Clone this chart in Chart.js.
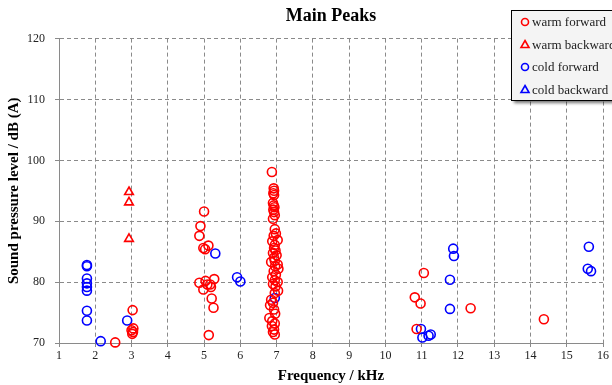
<!DOCTYPE html>
<html>
<head>
<meta charset="utf-8">
<script src="https://cdn.jsdelivr.net/npm/chart.js@4.4.1/dist/chart.umd.min.js"></script>
<style>
  html, body { margin: 0; padding: 0; background: #fff; }
</style>
</head>
<body>
<canvas id="peaks" width="612" height="385"></canvas>
<script>
// Peak values: [frequency kHz, level dB(A)]
const warmForward = [
  [2.55, 70.1], [3.03, 75.4], [3.05, 72.4], [3.0, 72.1], [3.04, 71.8], [3.02, 71.5],
  [5.0, 91.6], [4.9, 89.2], [4.87, 87.6], [4.98, 85.6], [5.03, 85.4], [5.12, 86.0],
  [4.87, 79.9], [5.04, 80.2], [5.28, 80.5], [4.98, 78.8], [5.17, 79.6], [5.19, 79.2],
  [5.09, 79.6], [5.21, 77.3], [5.26, 75.8], [5.13, 71.3],
  [6.87, 98.1], [6.92, 95.4], [6.93, 95.0], [6.91, 94.6], [6.93, 94.3], [6.9, 93.0],
  [6.92, 92.6], [6.94, 92.3], [6.91, 91.9], [6.93, 91.5], [6.95, 91.0], [6.9, 90.4],
  [6.95, 88.7], [6.98, 88.0], [6.92, 87.6], [7.03, 86.9], [6.88, 86.7], [6.95, 86.1],
  [6.93, 85.6], [6.97, 85.2], [6.9, 84.8], [7.0, 84.4], [6.93, 84.0], [6.95, 83.5],
  [6.85, 83.3], [7.03, 82.9], [6.96, 82.6], [7.05, 82.2], [6.92, 81.8], [6.98, 81.2],
  [6.88, 80.8], [6.95, 80.3], [7.03, 80.0], [6.9, 79.7], [6.97, 79.3], [7.04, 78.6],
  [6.95, 78.2], [6.85, 77.1], [6.9, 76.6], [6.82, 76.2], [6.93, 75.5], [6.96, 74.8],
  [6.8, 74.1], [6.88, 73.6], [6.95, 73.2], [6.87, 72.8], [6.93, 72.2], [6.9, 71.8],
  [6.95, 71.4],
  [10.81, 77.5], [10.97, 76.5], [11.06, 81.5], [10.86, 72.3], [12.35, 75.7], [14.37, 73.9]
];
const warmBackward = [[2.93, 94.8], [2.93, 93.1], [2.93, 87.1]];
const coldForward = [
  [1.77, 82.8], [1.77, 82.6], [1.77, 80.6], [1.77, 79.8], [1.77, 79.2], [1.77, 78.6],
  [1.77, 75.3], [1.77, 73.7], [2.15, 70.3], [2.88, 73.7], [5.31, 84.7], [5.91, 80.8],
  [6.0, 80.1], [6.95, 77.4], [11.78, 80.4], [11.87, 85.5], [11.89, 84.3], [11.78, 75.6],
  [10.98, 72.3], [11.02, 70.9], [11.19, 71.2], [11.25, 71.4], [15.61, 85.8],
  [15.58, 82.2], [15.67, 81.8]
];
const coldBackward = [];

const xMin = 1, xMax = 16, yMin = 70, yMax = 120;

const RED = "#ff0000";
const BLUE = "#0000ff";
const SERIF = "'Liberation Serif', 'Times New Roman', serif";

function toPoints(list) {
  return list.map(([x, y]) => ({ x, y }));
}

function series(label, list, color, style) {
  return {
    label: label,
    data: toPoints(list),
    borderColor: color,
    backgroundColor: "rgba(0,0,0,0)",
    pointStyle: style,
    pointRadius: style === "triangle" ? 5 : 4.5,
    pointBorderWidth: 1.6,
    clip: false
  };
}

// Boxed legend with drop shadow, drawn over the top right corner
const boxLegend = {
  id: "boxLegend",
  afterDraw(chart) {
    const ctx = chart.ctx;
    ctx.save();
    ctx.shadowColor = "rgba(0,0,0,0.55)";
    ctx.shadowOffsetX = 3;
    ctx.shadowOffsetY = 3;
    ctx.shadowBlur = 3;
    ctx.fillStyle = "#f4f4f4";
    ctx.fillRect(511, 10, 112, 90);
    ctx.shadowColor = "transparent";
    ctx.strokeStyle = "#000";
    ctx.lineWidth = 1;
    ctx.strokeRect(511.5, 10.5, 112, 90);

    ctx.font = "13px " + SERIF;
    ctx.textBaseline = "middle";
    ctx.textAlign = "left";
    chart.data.datasets.forEach((ds, i) => {
      const y = 22 + i * 22.5;
      const x = 525;
      ctx.strokeStyle = ds.borderColor;
      ctx.lineWidth = 1.6;
      ctx.beginPath();
      if (ds.pointStyle === "triangle") {
        ctx.moveTo(x, y - 4);
        ctx.lineTo(x + 4, y + 3);
        ctx.lineTo(x - 4, y + 3);
        ctx.closePath();
      } else {
        ctx.arc(x, y, 3.5, 0, Math.PI * 2);
      }
      ctx.stroke();
      ctx.fillStyle = "#222";
      ctx.fillText(ds.label, 532, y + 1);
    });
    ctx.restore();
  }
};

const ctx = document.getElementById("peaks").getContext("2d");
new Chart(ctx, {
  type: "scatter",
  data: {
    datasets: [
      series("warm forward", warmForward, RED, "circle"),
      series("warm backward", warmBackward, RED, "triangle"),
      series("cold forward", coldForward, BLUE, "circle"),
      series("cold backward", coldBackward, BLUE, "triangle")
    ]
  },
  options: {
    responsive: false,
    animation: false,
    layout: { padding: { left: 0, right: 9, top: 0, bottom: 0 } },
    plugins: {
      legend: { display: false },
      tooltip: { enabled: false },
      title: {
        display: true,
        text: "Main Peaks",
        fullSize: false,
        color: "#000",
        font: { family: SERIF, size: 18, weight: "bold" },
        padding: { top: 6, bottom: 11 }
      }
    },
    scales: {
      x: {
        type: "linear",
        min: xMin,
        max: xMax,
        afterFit: (scale) => { scale.height = 42; },
        ticks: {
          stepSize: 1,
          padding: 2,
          color: "#222",
          font: { family: SERIF, size: 12 }
        },
        grid: { color: "#8a8a8a", tickLength: 4, tickColor: "#8a8a8a" },
        border: { display: true, color: "#8a8a8a", width: 1, dash: [4, 3] },
        title: {
          display: true,
          text: "Frequency / kHz",
          color: "#000",
          font: { family: SERIF, size: 15, weight: "bold" },
          padding: { top: 0, bottom: 0 }
        }
      },
      y: {
        type: "linear",
        min: yMin,
        max: yMax,
        afterFit: (scale) => { scale.width = 59; },
        ticks: {
          stepSize: 10,
          padding: 10,
          color: "#222",
          font: { family: SERIF, size: 12 }
        },
        grid: { color: "#8a8a8a", tickLength: 4, tickColor: "#8a8a8a" },
        border: { display: true, color: "#8a8a8a", width: 1, dash: [4, 3] },
        title: {
          display: true,
          text: "Sound pressure level / dB (A)",
          color: "#000",
          font: { family: SERIF, size: 15, weight: "bold" },
          padding: { top: 5, bottom: 0 }
        }
      }
    }
  },
  plugins: [boxLegend]
});
</script>
</body>
</html>
